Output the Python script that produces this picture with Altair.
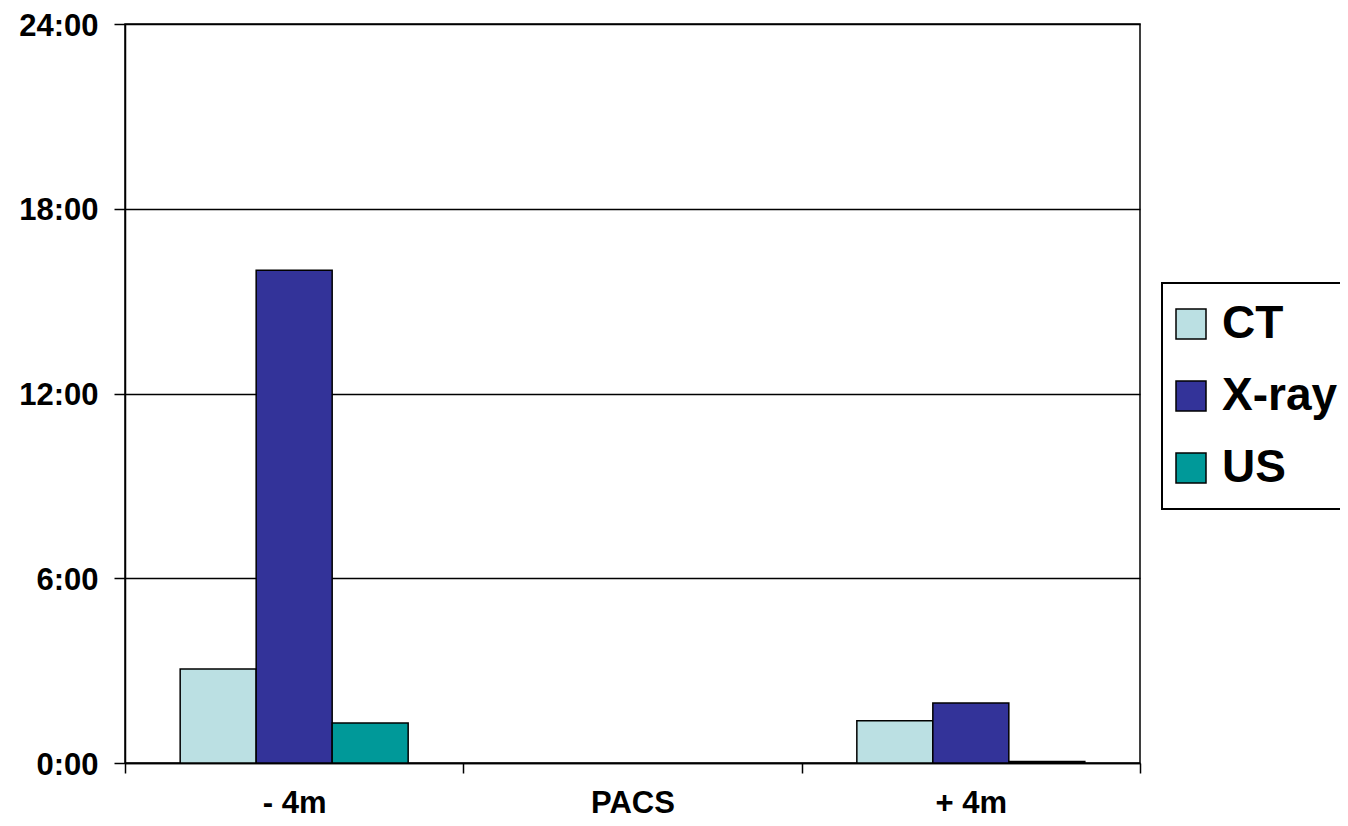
import altair as alt
import pandas as pd

periods = ["- 4m", "PACS", "+ 4m"]
modalities = ["CT", "X-ray", "US"]
ct_hours = [3.05, None, 1.37]
xray_hours = [16.0, None, 1.95]
us_hours = [1.30, None, 0.05]
y_ticks = [0, 6, 12, 18, 24]
colors = ["#BBE0E3", "#333399", "#009999"]

rows = []
for mod, vals in zip(modalities, [ct_hours, xray_hours, us_hours]):
    for p, v in zip(periods, vals):
        if v is not None:
            rows.append({"period": p, "modality": mod, "hours": v})
df = pd.DataFrame(rows)

FONT = "Liberation Sans"

chart = alt.Chart(df).mark_bar(stroke="black", strokeWidth=1.5, opacity=1).encode(
    x=alt.X(
        "period:N",
        sort=periods,
        scale=alt.Scale(domain=periods, paddingInner=0, paddingOuter=0),
        axis=alt.Axis(
            title=None, labelAngle=0, tickBand="extent", tickColor="black",
            tickSize=10, tickWidth=1.5, domainColor="black", domainWidth=1.5,
            labelFont=FONT, labelFontSize=31, labelFontWeight="bold",
            labelColor="black", labelPadding=15, grid=False,
        ),
    ),
    xOffset=alt.XOffset(
        "modality:N", sort=modalities,
        scale=alt.Scale(domain=modalities, paddingInner=0, paddingOuter=0.726),
    ),
    y=alt.Y(
        "hours:Q",
        scale=alt.Scale(domain=[0, 24], nice=False),
        axis=alt.Axis(
            title=None, values=y_ticks, labelExpr="datum.value + ':00'",
            tickColor="black", tickSize=11, tickWidth=1.5,
            domainColor="black", domainWidth=1.5,
            labelFont=FONT, labelFontSize=31, labelFontWeight="bold",
            labelColor="black", labelPadding=16, labelOffset=2,
            grid=True, gridColor="black", gridWidth=1.5, gridOpacity=1,
        ),
    ),
    color=alt.Color(
        "modality:N",
        sort=modalities,
        scale=alt.Scale(domain=modalities, range=colors),
        legend=alt.Legend(
            title=None, orient="none", legendX=1037, legendY=259,
            strokeColor="black", fillColor="white", padding=18,
            symbolType="square", symbolSize=900, symbolStrokeColor="black",
            symbolStrokeWidth=1.5, symbolOpacity=1, symbolOffset=-12,
            labelFont=FONT, labelFontSize=46, labelFontWeight="bold",
            labelColor="black", labelOffset=8, rowPadding=26,
        ),
    ),
).properties(
    width=1015, height=739,
    autosize=alt.AutoSizeParams(type="none"),
    padding={"left": 117, "top": 16, "right": 200, "bottom": 55},
).configure_view(
    stroke="black", strokeWidth=1.5
).configure_legend(
    strokeWidth=2
)

chart.save("out.html", embed_options={"renderer": "svg", "actions": False})
